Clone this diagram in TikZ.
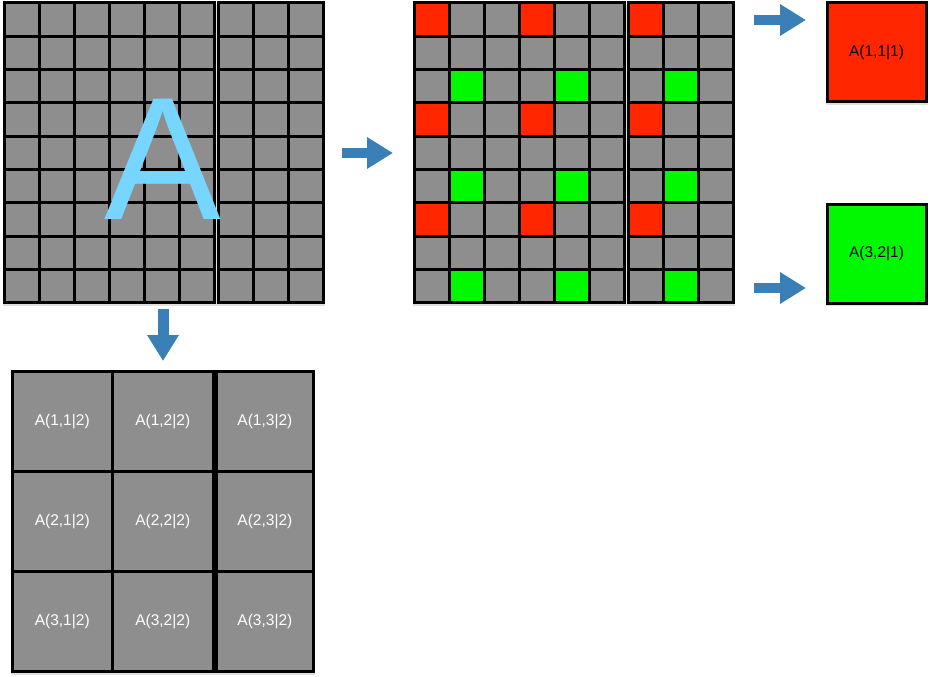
\documentclass[tikz,border=0pt]{standalone}
\usepackage{fontspec}
\setmainfont{Liberation Sans}
\usetikzlibrary{arrows.meta}
\definecolor{cellgray}{RGB}{142,142,142}
\definecolor{cellred}{RGB}{255,38,0}
\definecolor{cellgreen}{RGB}{0,249,0}
\definecolor{skyblue}{RGB}{118,214,255}
\definecolor{arrowblue}{RGB}{58,128,182}
\begin{document}
\begin{tikzpicture}[x=1pt,y=-1pt,
  cell/.style={draw=black, line width=3pt, fill=cellgray, minimum width=35.1pt,
    minimum height=33.33pt, inner sep=0pt, outer sep=0pt, anchor=north west},
  bigcell/.style={draw=black, line width=3pt, fill=cellgray, minimum width=100.5pt,
    minimum height=100.33pt, inner sep=0pt, outer sep=0pt, anchor=north west,
    text=white, font=\fontsize{15.5}{17}\selectfont},
  resultbox/.style={draw=black, line width=3pt, minimum width=99pt,
    minimum height=99pt, inner sep=0pt, outer sep=0pt, anchor=north west,
    text=black, font=\fontsize{15.5}{17}\selectfont},
  blockarrow/.style={draw=arrowblue, line width=10pt,
    -{Triangle[length=26pt, width=30pt]}},
  shade/.style={fill=black, opacity=0.12}
]
\useasboundingbox (0,0) rectangle (930,677);

% soft shadows
\fill[shade] (3,5) rectangle (325,306);
\fill[shade] (413,5) rectangle (735,306);
\fill[shade] (11,373) rectangle (315,675);
\fill[shade] (826,5) rectangle (928,105);
\fill[shade] (826,206) rectangle (928,306);

% left grid
\foreach \r in {0,...,8} {
  \foreach \c in {0,...,8} {
    \pgfmathsetmacro\xx{\c<6 ? 4+\c*35.1 : 218.4+(\c-6)*35}
    \node[cell] (L-\r-\c) at (\xx, {3+\r*33.33}) {};
  }
}
\node[text=skyblue, font=\fontsize{175}{175}\selectfont, anchor=base,
  inner sep=0pt] (bigA) at (163,219) {A};

% middle grid
\foreach \r in {0,...,8} {
  \foreach \c in {0,...,8} {
    \pgfmathtruncatemacro\rrr{mod(\r,3)}
    \pgfmathtruncatemacro\ccc{mod(\c,3)}
    \def\fc{cellgray}
    \ifnum\rrr=0 \ifnum\ccc=0 \def\fc{cellred}\fi\fi
    \ifnum\rrr=2 \ifnum\ccc=1 \def\fc{cellgreen}\fi\fi
    \pgfmathsetmacro\xx{\c<6 ? 414+\c*35.1 : 628.4+(\c-6)*35}
    \node[cell, fill=\fc] (M-\r-\c) at (\xx, {3+\r*33.33}) {};
  }
}

% result boxes
\node[resultbox, fill=cellred] (R111) at (827,3) {A(1,1|1)};
\node[resultbox, fill=cellgreen] (G321) at (827,204) {A(3,2|1)};

% bottom grid
\foreach \r in {1,2,3} {
  \node[bigcell] (B-\r-1) at (12, {371+(\r-1)*100.33}) {A(\r,1|2)};
  \node[bigcell] (B-\r-2) at (112.5, {371+(\r-1)*100.33}) {A(\r,2|2)};
  \node[bigcell, minimum width=97pt] (B-\r-3) at (216.4, {371+(\r-1)*100.33}) {A(\r,3|2)};
}

% arrows
\coordinate (midS) at (342,153);
\coordinate (midE) at (393,153);
\coordinate (topS) at (754,20);
\coordinate (topE) at (806,20);
\coordinate (botS) at (754,288);
\coordinate (botE) at (806,288);
\coordinate (downS) at (163,309);
\coordinate (downE) at (163,361);
\draw[blockarrow] (midS) -- (midE);
\draw[blockarrow] (topS) -- (topE);
\draw[blockarrow] (botS) -- (botE);
\draw[blockarrow, line width=11pt] (downS) -- (downE);
\end{tikzpicture}
\end{document}
